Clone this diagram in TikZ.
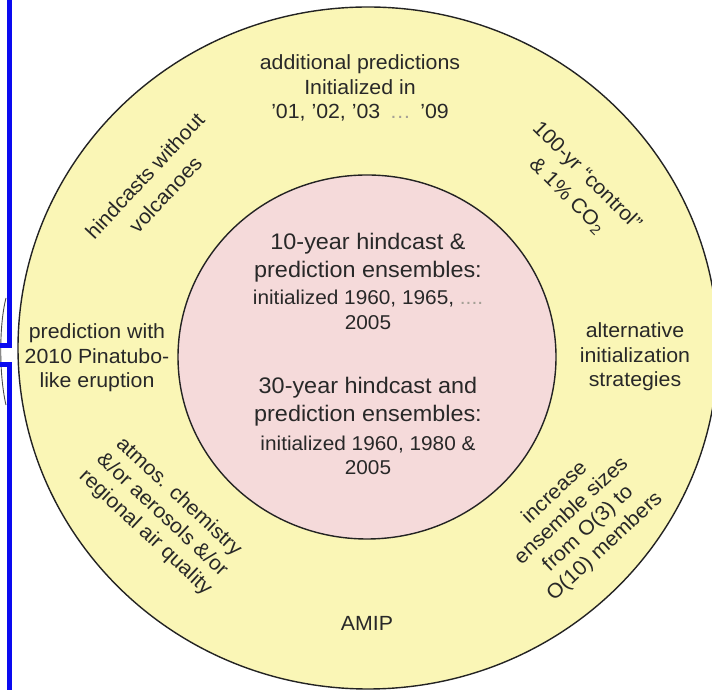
\documentclass[tikz,border=0pt]{standalone}
\usepackage{fontspec}
\setmainfont{Liberation Sans}[FakeStretch=1.04]
\definecolor{ringyellow}{RGB}{250,246,182}
\definecolor{corepink}{RGB}{245,218,218}
\definecolor{edgegray}{RGB}{35,35,35}
\definecolor{textgray}{RGB}{40,40,40}
\definecolor{dotgray}{RGB}{165,160,150}
\definecolor{frameblue}{RGB}{10,10,240}
\tikzset{
  ringtext/.style={text=textgray, align=center, inner sep=0pt, font=\fontsize{20.5}{24.5}\selectfont},
  bigtext/.style={text=textgray, align=center, inner sep=0pt, font=\fontsize{22.5}{27.5}\selectfont},
  smalltext/.style={text=textgray, align=center, inner sep=0pt, font=\fontsize{20}{25.5}\selectfont},
  outline/.style={draw=edgegray, line width=1.4pt}
}
\begin{document}
\begin{tikzpicture}[x=1pt,y=1pt]
\useasboundingbox (0,0) rectangle (712,690);
\clip (0,0) rectangle (712,690);
\fill[white] (0,0) rectangle (712,690);
% rings
\draw[outline, fill=ringyellow] (368,342) ellipse [x radius=350, y radius=341];
\draw[outline, fill=corepink] (367,333) ellipse [x radius=189, y radius=182];
% slide frame on the left
\draw[gray!60!black, line width=0.9pt] (6,392) .. controls (-1,365) and (-1,315) .. (6,285);
\draw[frameblue, line width=5.5pt, line join=miter] (9.5,695) -- (9.5,344.5) -- (-2,344.5);
\draw[frameblue, line width=5.5pt, line join=miter] (9.5,-5) -- (9.5,325.5) -- (-2,325.5);
% outer ring texts
\node[ringtext] (top) at (360,602) {additional predictions\\Initialized in\\’01, ’02, ’03 \,\textcolor{dotgray}{…}\, ’09};
\node[ringtext] (left) at (97,332) {prediction with\\2010 Pinatubo-\\like eruption};
\node[ringtext] (right) at (635,333) {alternative\\initialization\\strategies};
\node[ringtext] (amip) at (367,67) {AMIP};
\node[ringtext, rotate=47, font=\fontsize{20.5}{28}\selectfont] (volc) at (155,505) {hindcasts without\\volcanoes};
\node[ringtext, rotate=-45, font=\fontsize{20.5}{28}\selectfont] (ctrl) at (577,504) {100-yr “control”\\\& 1\% CO\textsubscript{2}};
\node[ringtext, rotate=-43] (chem) at (162,175) {atmos. chemistry\\\&/or aerosols \&/or\\regional air quality};
\node[ringtext, rotate=43] (ens) at (580,170) {increase\\ensemble sizes\\from O(3) to\\O(10) members};
% core texts
\node[bigtext] (tenA) at (368,432.5) {10-year hindcast \&\\prediction ensembles:};
\node[smalltext] (tenB) at (368,380) {initialized 1960, 1965, \textcolor{dotgray}{....}\\2005};
\node[bigtext] (thirtyA) at (368,288.5) {30-year hindcast and\\prediction ensembles:};
\node[smalltext, font=\fontsize{20}{24}\selectfont] (thirtyB) at (368,235) {initialized 1960, 1980 \&\\2005};
\end{tikzpicture}
\end{document}
